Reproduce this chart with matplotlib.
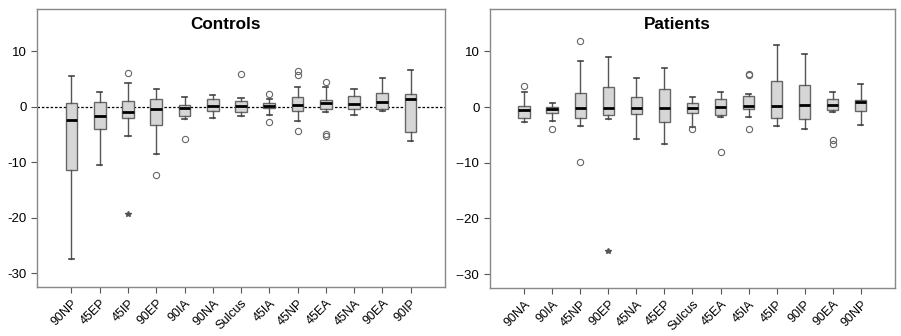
import matplotlib
matplotlib.use("Agg")
import matplotlib.pyplot as plt

plt.rcParams['font.family'] = ['Liberation Sans', 'DejaVu Sans']

# Controls
ctrl_labels = ['90NP', '45EP', '45IP', '90EP', '90IA', '90NA', 'Sulcus',
               '45IA', '45NP', '45EA', '45NA', '90EA', '90IP']
ctrl_whishi = [5.5, 2.6, 4.3, 3.2, 1.75, 2.15, 1.5, 1.4, 3.5, 3.5, 3.2, 5.1, 6.65]
ctrl_q3 = [0.7, 0.8, 0.95, 1.45, 0.35, 1.4, 1.1, 0.65, 1.7, 1.25, 1.85, 2.45, 2.3]
ctrl_med = [-2.4, -1.6, -0.9, -0.36, -0.2, 0.05, 0.05, 0.15, 0.25, 0.65, 0.55, 0.8, 1.45]
ctrl_q1 = [-11.35, -4.1, -2.0, -3.25, -1.75, -0.85, -1.0, -0.3, -0.7, -0.4, -0.35, -0.4, -4.6]
ctrl_whislo = [-27.4, -10.6, -5.35, -8.5, -2.2, -2.0, -1.75, -1.45, -2.5, -1.0, -1.55, -0.8, -6.1]
ctrl_out = [[], [], [6.1], [-12.4], [-5.8], [], [5.9], [2.3, -2.7],
            [6.5, 5.75, -4.45], [4.4, -4.9, -5.2], [], [], []]
ctrl_ext = [[], [], [-19.3], [], [], [], [], [], [], [], [], [], []]

# Patients
pat_labels = ['90NA', '90IA', '45NP', '90EP', '45NA', '45EP', 'Sulcus',
              '45EA', '45IA', '45IP', '90IP', '90EA', '90NP']
pat_whishi = [2.7, 0.7, 8.2, 9.05, 5.15, 7.1, 1.8, 2.65, 2.35, 11.2, 9.6, 2.65, 4.1]
pat_q3 = [0.15, 0.1, 2.5, 3.65, 1.85, 3.3, 0.65, 1.4, 2.0, 4.7, 3.95, 1.5, 1.25]
pat_med = [-0.6, -0.35, -0.25, -0.1, -0.1, -0.1, -0.15, -0.05, 0.2, 0.25, 0.4, 0.4, 1.0]
pat_q1 = [-1.95, -1.15, -1.9, -1.5, -1.3, -2.65, -1.0, -1.45, -0.35, -1.9, -2.2, -0.55, -0.7]
pat_whislo = [-2.65, -2.5, -3.4, -2.2, -5.8, -6.6, -3.5, -1.85, -1.85, -3.4, -4.0, -0.9, -3.2]
pat_out = [[3.8], [-4.0], [11.9, -9.85], [], [], [], [-4.0], [-8.05],
           [5.7, 5.9, -4.0], [], [], [-5.95, -6.65], []]
pat_ext = [[], [], [], [-25.8], [], [], [], [], [], [], [], [], []]

ticks = [-30, -20, -10, 0, 10]


def make_stats(labels, whishi, q3, med, q1, whislo, out):
    stats = []
    for i in range(len(labels)):
        stats.append({'label': labels[i], 'whishi': whishi[i], 'q3': q3[i],
                      'med': med[i], 'q1': q1[i], 'whislo': whislo[i],
                      'fliers': out[i]})
    return stats


def draw_panel(ax, title, stats, ext, tick_labels, zero_line):
    ax.bxp(stats, widths=0.41, capwidths=0.18, patch_artist=True,
           boxprops=dict(facecolor='#d6d6d6', edgecolor='#666666', linewidth=1),
           medianprops=dict(color='black', linewidth=2),
           whiskerprops=dict(color='#555555', linewidth=1),
           capprops=dict(color='#444444', linewidth=1.2),
           flierprops=dict(marker='o', markersize=4.5, markerfacecolor='none',
                           markeredgecolor='#666666', markeredgewidth=0.8))
    for i, vals in enumerate(ext):
        if vals:
            ax.plot([i + 1] * len(vals), vals, linestyle='none', marker='*',
                    markersize=4, color='#555555')
    if zero_line:
        ax.axhline(0, color='black', linewidth=0.9, linestyle=(0, (2, 1.5)),
                   zorder=0.5)
    ax.set_xlim(1 - 1.22, len(stats) + 1.22)
    ax.set_ylim(-32.5, 17.6)
    ax.set_yticks(ticks)
    ax.set_yticklabels(tick_labels, fontsize=9.5)
    ax.set_xticklabels([s['label'] for s in stats], rotation=45, ha='right',
                       rotation_mode='anchor', fontsize=9)
    ax.tick_params(axis='both', length=4, color='#555555', direction='out')
    for sp in ax.spines.values():
        sp.set_color('#888888')
        sp.set_linewidth(1)
    ax.text(0.462, 0.944, title, transform=ax.transAxes, ha='center',
            va='center', fontsize=12.3, fontweight='bold')


fig = plt.figure(figsize=(9.01, 3.36), dpi=100)
ax1 = fig.add_axes([0.0411, 0.1458, 0.4528, 0.8274])
ax2 = fig.add_axes([0.5438, 0.1429, 0.4495, 0.830])

draw_panel(ax1, 'Controls',
           make_stats(ctrl_labels, ctrl_whishi, ctrl_q3, ctrl_med, ctrl_q1,
                      ctrl_whislo, ctrl_out),
           ctrl_ext, ['-30', '-20', '-10', '0', '10'], True)
draw_panel(ax2, 'Patients',
           make_stats(pat_labels, pat_whishi, pat_q3, pat_med, pat_q1,
                      pat_whislo, pat_out),
           pat_ext, ['--30', '--20', '--10', '0', '10'], False)

fig.savefig('out.png', dpi=100)
